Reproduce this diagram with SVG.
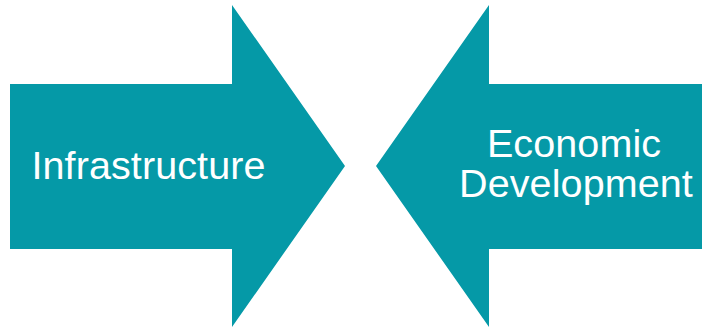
<svg xmlns="http://www.w3.org/2000/svg" width="702" height="329" viewBox="0 0 702 329">
<style>
.arrow{fill:#0599a7;stroke:none}
.lbl{font-family:"Liberation Sans",Arial,sans-serif;font-size:39.5px;fill:#ffffff;text-anchor:middle;letter-spacing:0.1px}
</style>
<rect width="702" height="329" fill="#ffffff"/>
<g id="infrastructure">
<polygon class="arrow" points="10,84 232,84 232,5 345,166 232,327 232,249 10,249"/>
<text class="lbl" x="148.5" y="179">Infrastructure</text>
</g>
<g id="economic-development">
<polygon class="arrow" points="702,84 489,84 489,5 376,166 489,327 489,249 702,249"/>
<text class="lbl" x="574" y="157">Economic</text>
<text class="lbl" x="576" y="197">Development</text>
</g>
<g id="connectors"></g>
</svg>
